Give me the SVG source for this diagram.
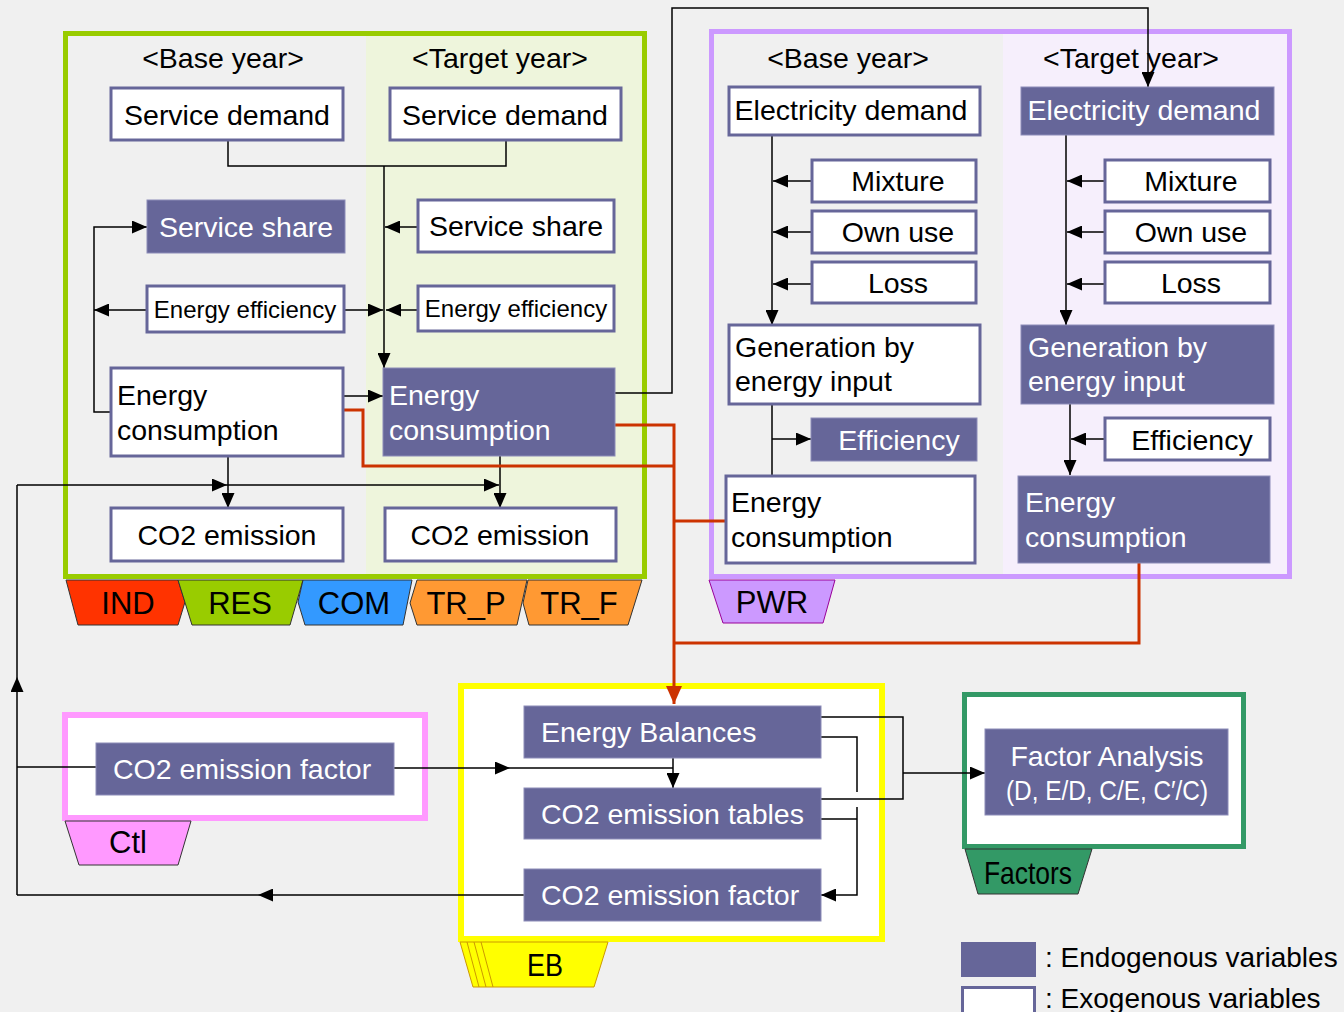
<svg xmlns="http://www.w3.org/2000/svg" width="1344" height="1012" viewBox="0 0 1344 1012">
<style>
  text{font-family:"Liberation Sans",Arial,sans-serif;font-size:28.5px;fill:#000}
  .w{fill:#fff}
  .c{text-anchor:middle}
  .exo{fill:#fff;stroke:#666699;stroke-width:3}
  .endo{fill:#666699;stroke:#8c8cb8;stroke-width:1}
  .ln{fill:none;stroke:#000;stroke-width:1.5}
  .red{fill:none;stroke:#cc3300;stroke-width:3}
  .tab{stroke:#333;stroke-width:1}
  .tt{font-size:31px}
</style>
<defs>
  <marker id="a" markerUnits="userSpaceOnUse" markerWidth="15" markerHeight="13" refX="15" refY="6.5" orient="auto">
    <path d="M0,0 L15,6.5 L0,13 Z" fill="#000"/>
  </marker>
  <marker id="ar" markerUnits="userSpaceOnUse" markerWidth="18" markerHeight="16" refX="18" refY="8" orient="auto">
    <path d="M0,0 L18,8 L0,16 Z" fill="#cc3300"/>
  </marker>
</defs>
<rect width="1344" height="1012" fill="#f0f0f0"/>

<!-- Sector frame (green) -->
<g id="sector-frame">
  <rect x="366" y="34" width="278" height="542" fill="#eef5dc"/>
  <rect x="65.5" y="33.5" width="579" height="543" fill="none" stroke="#99cc00" stroke-width="5"/>
  <text x="223" y="68" class="c">&lt;Base year&gt;</text>
  <text x="500" y="68" class="c">&lt;Target year&gt;</text>
</g>
<g id="tabs-sector">
  <polygon class="tab" fill="#ff3300" stroke="#990000" points="66,580 178,580 185,602 178,625 78,625"/>
  <polygon class="tab" fill="#99cc00" points="178,580 303,580 290,625 192,625"/>
  <polygon class="tab" fill="#3399ff" points="303,580 412,580 403,625 305,625 298,602"/>
  <polygon class="tab" fill="#ff9933" points="417,580 527,580 517,625 417,625 410,603"/>
  <polygon class="tab" fill="#ff9933" points="528,580 642,580 628,625 529,625 523,603"/>
  <text x="128" y="614" class="c tt">IND</text>
  <text x="240" y="614" class="c tt">RES</text>
  <text x="354" y="614" class="c tt">COM</text>
  <text x="466" y="614" class="c tt">TR_P</text>
  <text x="579" y="614" class="c tt">TR_F</text>
</g>

<!-- PWR frame -->
<g id="pwr-frame">
  <rect x="1003" y="32" width="286" height="544" fill="#f6effc"/>
  <rect x="711.5" y="31.5" width="578" height="545" fill="none" stroke="#cc99ff" stroke-width="5"/>
  <text x="848" y="68" class="c">&lt;Base year&gt;</text>
  <text x="1131" y="68" class="c">&lt;Target year&gt;</text>
  <polygon fill="#cc99ff" stroke="#990099" stroke-width="1" points="709,580 835,580 823,623 723,623"/>
  <text x="772" y="613" class="c tt">PWR</text>
</g>

<!-- Ctl frame -->
<g id="ctl-frame">
  <rect x="65" y="715" width="360" height="103" fill="#fff" stroke="#ff99ff" stroke-width="6"/>
  <polygon fill="#ff99ff" stroke="#333" stroke-width="1" points="65,821 191,821 178,865 79,865"/>
  <text x="128" y="853" class="c tt">Ctl</text>
</g>

<!-- EB frame -->
<g id="eb-frame">
  <rect x="461" y="686" width="421" height="253" fill="#fff" stroke="#ffff00" stroke-width="6"/>
  <polygon fill="#ffff00" stroke="#cc9900" stroke-width="1" points="460,942 608,942 594,987 473,987"/>
  <path d="M467,942 L479,987 M474,942 L486,987 M481,942 L493,987" stroke="#cc9900" stroke-width="1" fill="none"/>
  <text x="545" y="976" class="c" style="font-size:31px" textLength="36" lengthAdjust="spacingAndGlyphs">EB</text>
</g>

<!-- Factors frame -->
<g id="factors-frame">
  <rect x="964.5" y="694.5" width="279" height="152" fill="#fff" stroke="#339966" stroke-width="5"/>
  <polygon fill="#339966" stroke="#333" stroke-width="1" points="965,849 1092,849 1078,894 978,894"/>
  <text x="1028" y="884" class="c" style="font-size:32px" textLength="88" lengthAdjust="spacingAndGlyphs">Factors</text>
</g>

<!-- Connectors -->
<g id="connectors">
  <path class="ln" d="M228,140 V166 H506 V140"/>
  <path class="ln" d="M384,166 V368" marker-end="url(#a)"/>
  <path class="ln" d="M418,227 H385" marker-end="url(#a)"/>
  <path class="ln" d="M418,310 H386" marker-end="url(#a)"/>
  <path class="ln" d="M344,310 H383" marker-end="url(#a)"/>
  <path class="ln" d="M147,310 H94" marker-end="url(#a)"/>
  <path class="ln" d="M111,412 H94 V227 H147" marker-end="url(#a)"/>
  <path class="ln" d="M343,396 H383" marker-end="url(#a)"/>
  <path class="ln" d="M228,456 V508" marker-end="url(#a)"/>
  <path class="ln" d="M500,456 V508" marker-end="url(#a)"/>
  <path class="ln" d="M17,485 H227" marker-end="url(#a)"/>
  <path class="ln" d="M227,485 H499" marker-end="url(#a)"/>
  <path class="ln" d="M615,393 H672 V8 H1148 V87" marker-end="url(#a)"/>

  <path class="ln" d="M772,135 V325" marker-end="url(#a)"/>
  <path class="ln" d="M812,181 H773" marker-end="url(#a)"/>
  <path class="ln" d="M812,232 H773" marker-end="url(#a)"/>
  <path class="ln" d="M812,284 H773" marker-end="url(#a)"/>
  <path class="ln" d="M1066,135 V325" marker-end="url(#a)"/>
  <path class="ln" d="M1105,181 H1067" marker-end="url(#a)"/>
  <path class="ln" d="M1105,232 H1067" marker-end="url(#a)"/>
  <path class="ln" d="M1105,284 H1067" marker-end="url(#a)"/>
  <path class="ln" d="M772,404 V476"/>
  <path class="ln" d="M772,439 H811" marker-end="url(#a)"/>
  <path class="ln" d="M1070,404 V475" marker-end="url(#a)"/>
  <path class="ln" d="M1105,439 H1071" marker-end="url(#a)"/>

  <path class="ln" d="M17,895 V677" marker-end="url(#a)"/>
  <path class="ln" d="M17,677 V485"/>
  <path class="ln" d="M524,895 H258" marker-end="url(#a)"/>
  <path class="ln" d="M258,895 H17"/>
  <path class="ln" d="M96,767 H17"/>
  <path class="ln" d="M394,768 H510" marker-end="url(#a)"/>
  <path class="ln" d="M510,768 H673"/>
  <path class="ln" d="M673,757 V788" marker-end="url(#a)"/>
  <path class="ln" d="M820,717 H903 V799 H820"/>
  <path class="ln" d="M903,773 H985" marker-end="url(#a)"/>
  <path class="ln" d="M819,737 H857 V792"/>
  <path class="ln" d="M819,819 H857"/>
  <path class="ln" d="M857,807 V895 H821" marker-end="url(#a)"/>

  <path class="red" d="M343,410 H363 V466 H674"/>
  <path class="red" d="M615,425 H674 V704" marker-end="url(#ar)"/>
  <path class="red" d="M727,521 H674"/>
  <path class="red" d="M1139,563 V643 H674"/>
</g>

<!-- Sector nodes -->
<g id="sd-base"><rect class="exo" x="111" y="88" width="232" height="52"/><text x="227" y="125" class="c">Service demand</text></g>
<g id="sd-target"><rect class="exo" x="390" y="88" width="231" height="52"/><text x="505" y="125" class="c">Service demand</text></g>
<g id="ss-base"><rect class="endo" x="147" y="200" width="198" height="53"/><text x="246" y="237" class="c w">Service share</text></g>
<g id="ss-target"><rect class="exo" x="418" y="200" width="196" height="52"/><text x="516" y="236" class="c">Service share</text></g>
<g id="ee-base"><rect class="exo" x="147" y="286" width="197" height="46"/><text x="245" y="318" class="c" style="font-size:24px">Energy efficiency</text></g>
<g id="ee-target"><rect class="exo" x="418" y="286" width="196" height="45"/><text x="516" y="317" class="c" style="font-size:24px">Energy efficiency</text></g>
<g id="ec-base"><rect class="exo" x="111" y="368" width="232" height="88"/><text x="117" y="405">Energy</text><text x="117" y="440">consumption</text></g>
<g id="ec-target"><rect class="endo" x="383" y="368" width="232" height="88"/><text x="389" y="405" class="w">Energy</text><text x="389" y="440" class="w">consumption</text></g>
<g id="co2-base"><rect class="exo" x="111" y="508" width="232" height="53"/><text x="227" y="545" class="c">CO2 emission</text></g>
<g id="co2-target"><rect class="exo" x="385" y="508" width="231" height="53"/><text x="500" y="545" class="c">CO2 emission</text></g>

<!-- PWR nodes -->
<g id="el-base"><rect class="exo" x="729" y="87" width="251" height="48"/><text x="851" y="120" class="c">Electricity demand</text></g>
<g id="el-target"><rect class="endo" x="1021" y="87" width="253" height="48"/><text x="1144" y="120" class="c w">Electricity demand</text></g>
<g id="mix-base"><rect class="exo" x="812" y="160" width="164" height="42"/><text x="898" y="191" class="c">Mixture</text></g>
<g id="own-base"><rect class="exo" x="812" y="211" width="164" height="42"/><text x="898" y="242" class="c">Own use</text></g>
<g id="loss-base"><rect class="exo" x="812" y="262" width="164" height="41"/><text x="898" y="293" class="c">Loss</text></g>
<g id="mix-target"><rect class="exo" x="1105" y="160" width="165" height="42"/><text x="1191" y="191" class="c">Mixture</text></g>
<g id="own-target"><rect class="exo" x="1105" y="211" width="165" height="42"/><text x="1191" y="242" class="c">Own use</text></g>
<g id="loss-target"><rect class="exo" x="1105" y="262" width="165" height="41"/><text x="1191" y="293" class="c">Loss</text></g>
<g id="gen-base"><rect class="exo" x="729" y="325" width="251" height="79"/><text x="735" y="357">Generation by</text><text x="735" y="391">energy input</text></g>
<g id="gen-target"><rect class="endo" x="1021" y="325" width="253" height="79"/><text x="1028" y="357" class="w">Generation by</text><text x="1028" y="391" class="w">energy input</text></g>
<g id="eff-base"><rect class="endo" x="811" y="418" width="166" height="43"/><text x="899" y="450" class="c w">Efficiency</text></g>
<g id="eff-target"><rect class="exo" x="1105" y="418" width="165" height="42"/><text x="1192" y="450" class="c">Efficiency</text></g>
<g id="pec-base"><rect class="exo" x="726" y="476" width="249" height="87"/><text x="731" y="512">Energy</text><text x="731" y="547">consumption</text></g>
<g id="pec-target"><rect class="endo" x="1018" y="476" width="252" height="87"/><text x="1025" y="512" class="w">Energy</text><text x="1025" y="547" class="w">consumption</text></g>

<!-- Ctl node -->
<g id="ctl-ef"><rect class="endo" x="96" y="743" width="298" height="52"/><text x="113" y="779" class="w">CO2 emission factor</text></g>

<!-- EB nodes -->
<g id="eb-balances"><rect class="endo" x="524" y="706" width="297" height="52"/><text x="541" y="742" class="w">Energy Balances</text></g>
<g id="eb-tables"><rect class="endo" x="524" y="788" width="297" height="51"/><text x="541" y="824" class="w">CO2 emission tables</text></g>
<g id="eb-factor"><rect class="endo" x="524" y="869" width="297" height="52"/><text x="541" y="905" class="w">CO2 emission factor</text></g>

<!-- Factors node -->
<g id="factor-analysis"><rect class="endo" x="985" y="729" width="243" height="86"/>
  <text x="1107" y="766" class="c w">Factor Analysis</text>
  <text x="1107" y="800" class="c w" textLength="202" lengthAdjust="spacingAndGlyphs">(D, E/D, C/E, C′/C)</text>
</g>

<!-- Legend -->
<g id="legend">
  <rect x="961" y="942" width="75" height="35" fill="#666699"/>
  <text x="1045" y="967" style="font-size:28px">: Endogenous variables</text>
  <rect x="962.5" y="987.5" width="72" height="30" fill="#fff" stroke="#666699" stroke-width="3"/>
  <text x="1045" y="1008" style="font-size:28px">: Exogenous variables</text>
</g>
</svg>
